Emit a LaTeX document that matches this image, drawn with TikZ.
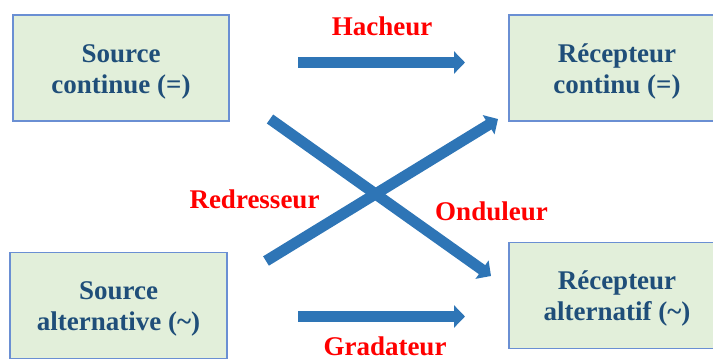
\documentclass[tikz,border=0pt]{standalone}
\usepackage{fontspec}
\setmainfont{Liberation Serif}
\usepackage{xcolor}
\usepackage{tikz}
\usetikzlibrary{
  arrows.meta,
  positioning
}
\definecolor{bleutexte}{HTML}{1F4E79}
\definecolor{bordbleu}{HTML}{6A8FD3}
\definecolor{vertpale}{HTML}{E2EFDA}
\definecolor{bleufleche}{HTML}{2E75B6}
% deux lignes de texte avec hauteur fixe
\newcommand{\deuxlignes}[2]{\rule{0pt}{25pt}#1\\#2\rule[-6pt]{0pt}{6pt}}

\begin{document}
\begin{tikzpicture}[x=1pt, y=-1pt,
    boite/.style={draw=bordbleu, fill=vertpale, line width=1.2pt, text=bleutexte,
      font=\bfseries\fontsize{27}{31}\selectfont, align=center,
      minimum width=216pt, minimum height=106pt, inner sep=0pt},
    fleche/.style={draw=bleufleche, line width=11pt, -{Triangle[length=11pt,width=22pt]}},
    etiq/.style={text=red, font=\bfseries\fontsize{27}{31}\selectfont, anchor=base, inner sep=0pt}]
    \useasboundingbox (0,0) rectangle (713,362);

    % Sources (a gauche)
    \node[boite] (srccont) at (121,68) {\deuxlignes{Source}{continue (=)}};
    \node[boite, minimum width=217pt] (srcalt) at (118.5,305.5) {\deuxlignes{Source}{alternative (\textasciitilde)}};

    % Recepteurs (a droite, coupes par le bord)
    \node[boite] (reccont) at (617,68) {\deuxlignes{Récepteur}{continu (=)}};
    \node[boite] (recalt) at (617,295.5) {\deuxlignes{Récepteur}{alternatif (\textasciitilde)}};

    % Extremites des fleches
    \coordinate (hachdeb) at (298,62.5);
    \coordinate (hachfin) at (465,62.5);
    \coordinate (graddeb) at (298,316.5);
    \coordinate (gradfin) at (465,316.5);
    \coordinate (onddeb) at (270,119);
    \coordinate (ondfin) at (491,276);
    \coordinate (reddeb) at (266,261);
    \coordinate (redfin) at (498,119);

    % Fleches de conversion
    \draw[fleche] (hachdeb) -- (hachfin);
    \draw[fleche] (graddeb) -- (gradfin);
    \draw[fleche] (onddeb) -- (ondfin);
    \draw[fleche] (reddeb) -- (redfin);

    % Noms des convertisseurs
    \node[etiq] (hacheur) at (382,35) {Hacheur};
    \node[etiq] (redresseur) at (254.5,208) {Redresseur};
    \node[etiq] (onduleur) at (491.5,220) {Onduleur};
    \node[etiq] (gradateur) at (385,355) {Gradateur};
\end{tikzpicture}
\end{document}
